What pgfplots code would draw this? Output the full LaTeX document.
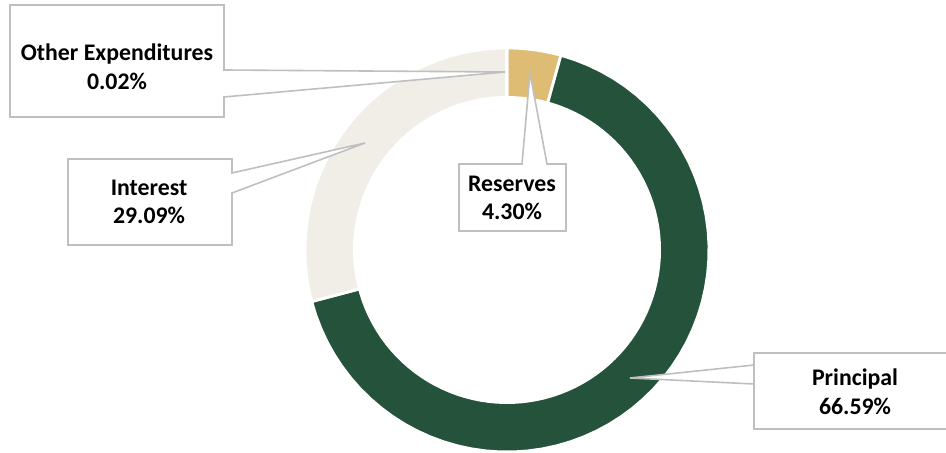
\documentclass[border=0pt]{standalone}
\usepackage{pgfplots}
\pgfplotsset{compat=1.18}
\usepackage{fontspec}
\setmainfont{Carlito}
\definecolor{principal}{RGB}{36,82,58}
\definecolor{reserves}{RGB}{222,188,115}
\definecolor{interest}{RGB}{240,238,231}
\definecolor{otherexp}{RGB}{165,165,165}
\definecolor{callout}{RGB}{191,191,191}

% shares in percent, clockwise from 12 o'clock
\def\pReserves{4.30}
\def\pPrincipal{66.59}
\def\pInterest{29.09}
\def\pOther{0.02}

\begin{document}
\begin{tikzpicture}[
  wedge/.style={draw=white, line width=1.4pt},
  box/.style={draw=callout, line width=0.8pt, fill=white},
  lbl/.style={align=center, font=\fontsize{11.9}{14.3}\selectfont\bfseries},
]
\pgfmathsetmacro\aZero{90}
\pgfmathsetmacro\aOne{\aZero-3.6*\pReserves}
\pgfmathsetmacro\aTwo{\aOne-3.6*\pPrincipal}
\pgfmathsetmacro\aThree{\aTwo-3.6*\pInterest}
\pgfmathsetmacro\aFour{\aThree-3.6*\pOther}
\begin{axis}[
  x=0.5pt, y=0.5pt,
  xmin=0, xmax=946, ymin=0, ymax=453,
  hide axis, clip=false,
  samples=60, variable=\t,
]
% ring: wedges, then the hole (centre 507,250 px; radii 202 and 154)
\addplot[wedge, fill=reserves, domain=\aOne:\aZero]
  ({507+202*cos(t)},{203+202*sin(t)}) -- (axis cs:507,203) -- cycle;
\addplot[wedge, fill=principal, domain=\aTwo:\aOne]
  ({507+202*cos(t)},{203+202*sin(t)}) -- (axis cs:507,203) -- cycle;
\addplot[wedge, fill=interest, domain=\aThree:\aTwo]
  ({507+202*cos(t)},{203+202*sin(t)}) -- (axis cs:507,203) -- cycle;
\addplot[wedge, fill=otherexp, domain=\aFour:\aThree, samples=3]
  ({507+202*cos(t)},{203+202*sin(t)}) -- (axis cs:507,203) -- cycle;
\addplot[draw=none, fill=white, domain=0:360, samples=120]
  ({507+154*cos(t)},{203+154*sin(t)}) -- cycle;

% callouts (y = 453 - pixel row)
\draw[box] (axis cs:10,448) -- (axis cs:224,448) -- (axis cs:224,383)
  -- (axis cs:505,381) -- (axis cs:224,356) -- (axis cs:224,336)
  -- (axis cs:10,336) -- cycle;
\node[lbl] at (axis cs:117,386) {Other Expenditures\\0.02\%};

\draw[box] (axis cs:68,294) -- (axis cs:232,294) -- (axis cs:232,280)
  -- (axis cs:365,310) -- (axis cs:232,260) -- (axis cs:232,208)
  -- (axis cs:68,208) -- cycle;
\node[lbl] at (axis cs:149,251) {Interest\\29.09\%};

\draw[box] (axis cs:459,289) -- (axis cs:522,289) -- (axis cs:530,380)
  -- (axis cs:547,289) -- (axis cs:566,289) -- (axis cs:566,222)
  -- (axis cs:459,222) -- cycle;
\node[lbl] at (axis cs:512,255) {Reserves\\4.30\%};

\draw[box] (axis cs:754,100) -- (axis cs:754,69) -- (axis cs:630,75)
  -- (axis cs:754,88) -- (axis cs:754,100) -- (axis cs:952,100)
  -- (axis cs:952,24) -- (axis cs:754,24) -- cycle;
\node[lbl] at (axis cs:855,61) {Principal\\66.59\%};
\end{axis}
\pgfresetboundingbox
\path (0,0) rectangle (473pt,226.5pt);
\end{tikzpicture}
\end{document}
